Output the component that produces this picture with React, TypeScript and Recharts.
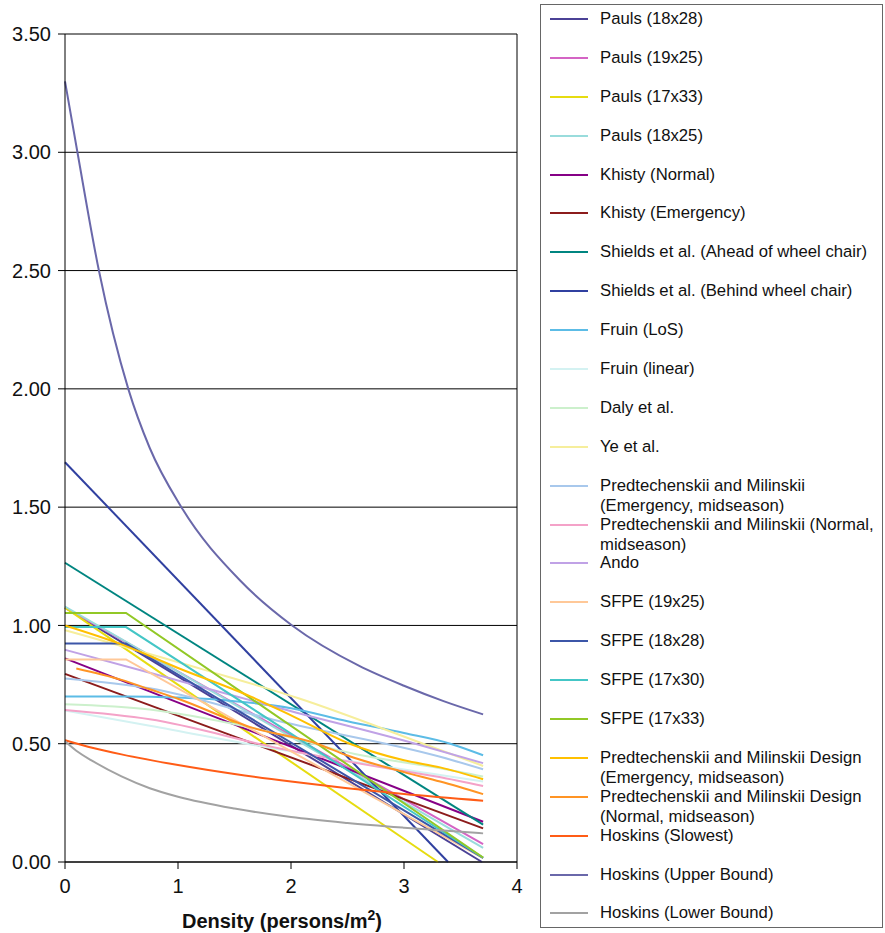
import React from 'react';
import { LineChart, Line, XAxis, YAxis, CartesianGrid, ReferenceLine } from 'recharts';

const FONT = '"Liberation Sans", Arial, Helvetica, sans-serif';

// density (persons/m2) vs speed (m/s)
const pauls18x28 = [[0, 1.075], [3.69, 0]];
const pauls19x25 = [[0, 1.075], [3.7, 0.076]];
const pauls17x33 = [[0, 1.075], [3.3, 0]];
const pauls18x25 = [[0, 1.08], [3.7, 0.06]];
const khistyNormal = [[0, 0.861], [3.7, 0.17]];
const khistyEmergency = [[0, 0.795], [3.7, 0.142]];
const shieldsAhead = [[0, 1.265], [3.7, 0.158]];
const shieldsBehind = [[0, 1.69], [3.39, 0]];
const fruinLos = [[0, 0.7], [0.55, 0.7], [1.0, 0.695], [1.5, 0.68], [2.0, 0.65], [2.5, 0.595], [3.0, 0.545], [3.41, 0.5], [3.7, 0.451]];
const fruinLinear = [[0, 0.64], [0.75, 0.576], [1.9, 0.475], [3.32, 0.368], [3.7, 0.34]];
const daly = [[0, 0.667], [0.75, 0.645], [1.63, 0.57], [2.61, 0.452], [3.32, 0.396], [3.7, 0.361]];
const ye = [[0, 0.98], [1.25, 0.81], [2.08, 0.69], [3.17, 0.5], [3.7, 0.406]];
const pmEmergency = [[0, 0.776], [0.75, 0.734], [1.9, 0.595], [3.32, 0.445], [3.7, 0.392]];
const pmNormal = [[0, 0.642], [0.75, 0.603], [1.9, 0.48], [2.8, 0.4], [3.3, 0.36], [3.7, 0.321]];
const ando = [[0, 0.897], [0.75, 0.8], [1.9, 0.65], [3.1, 0.5], [3.7, 0.418]];
const sfpe19x25 = [[0, 0.856], [0.54, 0.856], [3.7, 0.016]];
const sfpe18x28 = [[0, 0.924], [0.54, 0.924], [3.7, 0.017]];
const sfpe17x30 = [[0, 0.993], [0.54, 0.993], [3.7, 0.018]];
const sfpe17x33 = [[0, 1.053], [0.54, 1.053], [3.7, 0.019]];
const pmDesignEmergency = [[0, 1.0], [0.5, 0.92], [1.0, 0.82], [1.64, 0.7], [2.0, 0.62], [2.52, 0.5], [3.0, 0.43], [3.32, 0.4], [3.7, 0.35]];
const pmDesignNormal = [[0.1, 0.818], [0.5, 0.77], [0.75, 0.73], [1.0, 0.69], [1.64, 0.57], [2.23, 0.5], [2.5, 0.45], [3.0, 0.38], [3.32, 0.34], [3.7, 0.287]];
const hoskinsSlowest = [[0, 0.515], [0.25, 0.482], [0.5, 0.455], [1, 0.41], [1.5, 0.372], [2, 0.34], [2.5, 0.312], [3, 0.287], [3.7, 0.259]];
const hoskinsUpper = [[0, 3.3], [0.11, 3.0], [0.3, 2.5], [0.56, 2.0], [0.75, 1.75], [1.03, 1.5], [1.55, 1.19], [2.01, 1.0], [2.6, 0.83], [3.0, 0.745], [3.35, 0.68], [3.7, 0.624]];
const hoskinsLower = [[0, 0.51], [0.1, 0.47], [0.25, 0.425], [0.5, 0.362], [0.75, 0.312], [1, 0.276], [1.5, 0.226], [2, 0.19], [2.5, 0.165], [3, 0.145], [3.7, 0.121]];

const X_TICKS = [0, 1, 2, 3, 4];
const Y_TICKS = [0, 0.5, 1, 1.5, 2, 2.5, 3, 3.5];

const SERIES = [
  { name: 'Pauls (18x28)', color: '#4b4196', pts: pauls18x28 },
  { name: 'Pauls (19x25)', color: '#d464c4', pts: pauls19x25 },
  { name: 'Pauls (17x33)', color: '#e6dc10', pts: pauls17x33 },
  { name: 'Pauls (18x25)', color: '#99dcdc', pts: pauls18x25 },
  { name: 'Khisty (Normal)', color: '#860086', pts: khistyNormal },
  { name: 'Khisty (Emergency)', color: '#8c1c1c', pts: khistyEmergency },
  { name: 'Shields et al. (Ahead of wheel chair)', color: '#008580', pts: shieldsAhead },
  { name: 'Shields et al. (Behind wheel chair)', color: '#3040a0', pts: shieldsBehind },
  { name: 'Fruin (LoS)', color: '#5cbce6', pts: fruinLos, curve: true },
  { name: 'Fruin (linear)', color: '#d4f2f2', pts: fruinLinear, curve: true },
  { name: 'Daly et al.', color: '#ccf0cc', pts: daly, curve: true },
  { name: 'Ye et al.', color: '#f6ee9c', pts: ye, curve: true },
  { name: 'Predtechenskii and Milinskii (Emergency, midseason)', color: '#a8c8ec', pts: pmEmergency, curve: true },
  { name: 'Predtechenskii and Milinskii (Normal, midseason)', color: '#f4a2c8', pts: pmNormal, curve: true },
  { name: 'Ando', color: '#c0a2e6', pts: ando, curve: true },
  { name: 'SFPE (19x25)', color: '#ffc898', pts: sfpe19x25 },
  { name: 'SFPE (18x28)', color: '#3c56a8', pts: sfpe18x28 },
  { name: 'SFPE (17x30)', color: '#44c6c6', pts: sfpe17x30 },
  { name: 'SFPE (17x33)', color: '#92c826', pts: sfpe17x33 },
  { name: 'Predtechenskii and Milinskii Design (Emergency, midseason)', color: '#ffc000', pts: pmDesignEmergency, curve: true },
  { name: 'Predtechenskii and Milinskii Design (Normal, midseason)', color: '#ff9424', pts: pmDesignNormal, curve: true },
  { name: 'Hoskins (Slowest)', color: '#ff5c16', pts: hoskinsSlowest, curve: true },
  { name: 'Hoskins (Upper Bound)', color: '#6a68aa', pts: hoskinsUpper, curve: true },
  { name: 'Hoskins (Lower Bound)', color: '#a2a2a2', pts: hoskinsLower, curve: true },
].map((s) => ({ ...s, data: s.pts.map(([x, y]) => ({ x, y })) }));

/* eslint-disable @typescript-eslint/no-explicit-any */
function XLabel({ viewBox }: any) {
  const cx = viewBox.x + viewBox.width / 2 - 9;
  return (
    <text x={cx} y={928} textAnchor="middle" fontSize={20} fontWeight="bold" fill="#111" fontFamily={FONT}>
      Density (persons/m
      <tspan dy={-8} fontSize={14}>2</tspan>
      <tspan dy={8}>)</tspan>
    </text>
  );
}

function LegendBox() {
  return (
    <div
      style={{
        position: 'absolute', left: 540, top: 4, width: 343, height: 924,
        border: '1px solid #666', boxSizing: 'border-box', paddingTop: 4,
      }}
    >
      {SERIES.map((s) => (
        <div key={s.name} style={{ position: 'relative', height: 38.9 }}>
          <span style={{ position: 'absolute', left: 9, top: 9, width: 38, height: 2, background: s.color }} />
          <span
            style={{
              position: 'absolute', left: 59, top: 0, width: 286,
              fontSize: 16.7, lineHeight: '20px', color: '#111',
            }}
          >
            {s.name}
          </span>
        </div>
      ))}
    </div>
  );
}

export default function App() {
  const tick = { fontSize: 20, fill: '#111', fontFamily: FONT };
  return (
    <div style={{ position: 'absolute', left: 0, top: 0, width: 885, height: 933, background: '#fff', fontFamily: FONT }}>
      <LineChart width={540} height={933} margin={{ top: 34, right: 23, left: 0, bottom: 0 }}>
        <CartesianGrid vertical={false} stroke="#000" strokeWidth={1} />
        <XAxis
          type="number" dataKey="x" domain={[0, 4]} ticks={X_TICKS}
          tick={tick} tickSize={7} tickMargin={10} stroke="#000" height={71}
          label={<XLabel />}
        />
        <YAxis
          type="number" domain={[0, 3.5]} ticks={Y_TICKS} tickFormatter={(v: number) => v.toFixed(2)}
          tick={tick} tickSize={7} tickMargin={7} stroke="#000" width={65}
        />
        <ReferenceLine x={4} stroke="#000" />
        {SERIES.map((s) => (
          <Line
            key={s.name}
            data={s.data}
            dataKey="y"
            name={s.name}
            type={s.curve ? 'monotone' : 'linear'}
            stroke={s.color}
            strokeWidth={2}
            dot={false}
            isAnimationActive={false}
          />
        ))}
      </LineChart>
      <LegendBox />
    </div>
  );
}
